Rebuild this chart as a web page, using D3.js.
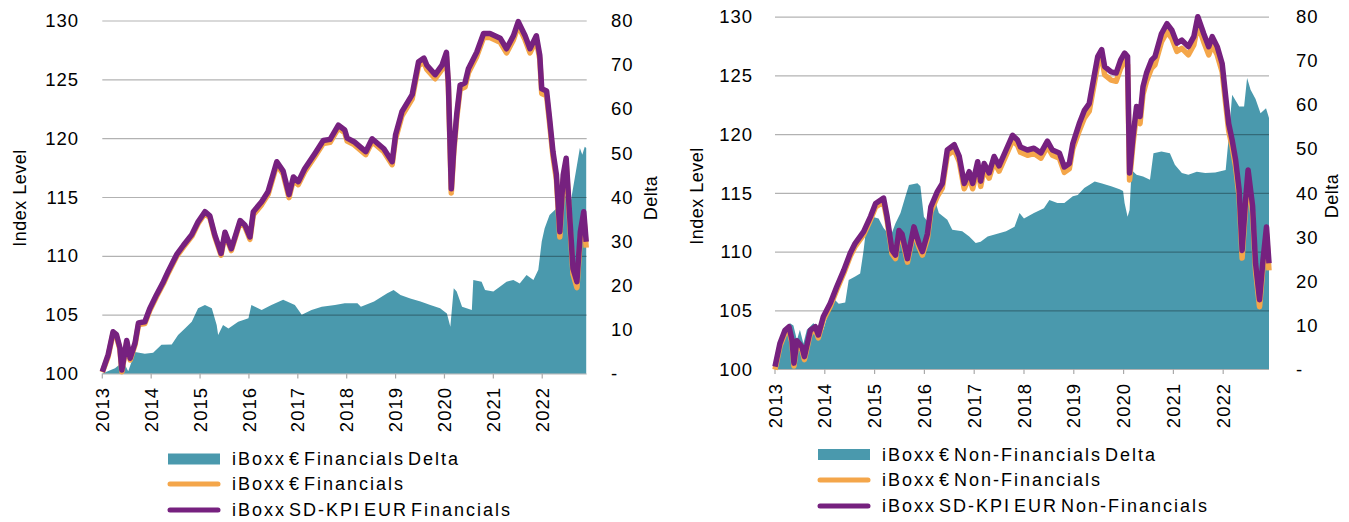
<!DOCTYPE html>
<html>
<head>
<meta charset="utf-8">
<script src="https://cdn.jsdelivr.net/npm/d3@7/dist/d3.min.js"></script>
<style>
	body { margin: 0; background: #fff; }
	text { font-family: "Liberation Sans", Arial, sans-serif; fill: #000; }
</style>
</head>
<body>
<div id="chart"></div>
<script>
// ---------- data ----------

// shared axis labels
var yearTicks = [2013, 2014, 2015, 2016, 2017, 2018, 2019, 2020, 2021, 2022];
var indexTicks = [100, 105, 110, 115, 120, 125, 130];
var deltaTicks = [0, 10, 20, 30, 40, 50, 60, 70, 80];

// Financials panel: index levels (dates as decimal years)
var finIdxYears = [
	2013.00, 2013.12, 2013.22, 2013.29, 2013.36, 2013.40, 2013.50, 2013.57, 2013.67, 2013.74, 2013.87, 2013.97,
	2014.11, 2014.25, 2014.35, 2014.52, 2014.66, 2014.83, 2014.96,
	2015.10, 2015.20, 2015.30, 2015.43, 2015.51, 2015.64, 2015.82, 2015.92,
	2016.02, 2016.09, 2016.26, 2016.39, 2016.57, 2016.70, 2016.82, 2016.91,
	2017.01, 2017.14, 2017.35, 2017.52, 2017.66, 2017.83, 2017.96,
	2018.01, 2018.15, 2018.39, 2018.52, 2018.76, 2018.93,
	2019.00, 2019.13, 2019.34, 2019.47, 2019.58, 2019.64, 2019.81, 2019.95,
	2020.04, 2020.08, 2020.14, 2020.19, 2020.25, 2020.32, 2020.42, 2020.49, 2020.66, 2020.80, 2020.93,
	2021.14, 2021.27, 2021.41, 2021.51, 2021.65, 2021.75, 2021.88, 2021.95, 2021.99,
	2022.09, 2022.15, 2022.22, 2022.29, 2022.36, 2022.43, 2022.49, 2022.56, 2022.63, 2022.71, 2022.78, 2022.85, 2022.90
];
var finKpi = [
	100.15, 101.6, 103.55, 103.3, 102.2, 100.3, 102.8, 101.3, 102.6, 104.3, 104.4, 105.5,
	106.7, 107.8, 108.7, 110.1, 110.9, 111.8, 112.9,
	113.75, 113.4, 111.8, 110.2, 112.0, 110.6, 113.0, 112.6,
	111.6, 113.75, 114.6, 115.45, 118.0, 117.2, 115.2, 116.7,
	116.3, 117.4, 118.7, 119.8, 119.9, 121.1, 120.7,
	120.0, 119.7, 118.85, 119.95, 119.1, 118.0,
	120.3, 122.25, 123.7, 126.5, 126.8, 126.2, 125.4, 126.2,
	127.3, 124.7, 115.7, 119.1, 122.0, 124.5, 124.7, 125.9, 127.3, 128.9, 128.9,
	128.5, 127.6, 128.7, 129.9, 128.7, 127.6, 128.7, 127.05, 124.2,
	124.0, 121.7, 118.85, 116.9, 112.05, 116.9, 118.3, 113.5, 108.9, 107.8, 112.05, 113.75, 111.2
];
var finIboxx = [
	100.1, 101.45, 103.4, 103.15, 102.05, 100.15, 102.65, 101.15, 102.45, 104.15, 104.25, 105.35,
	106.55, 107.65, 108.55, 109.95, 110.75, 111.65, 112.75,
	113.6, 113.25, 111.65, 110.05, 111.85, 110.45, 112.85, 112.45,
	111.4, 113.5, 114.35, 115.2, 117.75, 116.95, 114.95, 116.45,
	116.05, 117.15, 118.45, 119.55, 119.65, 120.85, 120.45,
	119.75, 119.45, 118.6, 119.7, 118.85, 117.75,
	119.95, 121.9, 123.35, 126.15, 126.45, 125.85, 125.05, 125.85,
	126.95, 124.35, 115.35, 118.75, 121.65, 124.15, 124.35, 125.55, 126.95, 128.55, 128.55,
	128.15, 127.25, 128.35, 129.55, 128.35, 127.25, 128.35, 126.7, 123.8,
	123.6, 121.3, 118.45, 116.5, 111.6, 116.45, 117.85, 113.05, 108.45, 107.3, 111.55, 113.3, 110.7
];
// Financials panel: delta (right axis)
var finDeltaYears = [
	2013.00, 2013.26, 2013.43, 2013.53, 2013.67, 2013.87,
	2014.04, 2014.21, 2014.42, 2014.55, 2014.69, 2014.83, 2014.96,
	2015.10, 2015.24, 2015.34, 2015.37, 2015.47, 2015.58, 2015.78, 2015.99,
	2016.05, 2016.26, 2016.46, 2016.70, 2016.94,
	2017.08, 2017.28, 2017.49, 2017.76, 2017.96,
	2018.22, 2018.29, 2018.56, 2018.83, 2018.96,
	2019.10, 2019.30, 2019.51, 2019.71, 2019.91,
	2020.05, 2020.12, 2020.19, 2020.25, 2020.36, 2020.56, 2020.59, 2020.76, 2020.83,
	2021.00, 2021.14, 2021.27, 2021.41, 2021.54, 2021.68, 2021.82, 2021.92, 2021.99,
	2022.05, 2022.15, 2022.29, 2022.39, 2022.49, 2022.56, 2022.63, 2022.70, 2022.77, 2022.82, 2022.87, 2022.90
];
var finDelta = [
	0, 1.2, 2.7, 0.5, 4.9, 4.5,
	4.7, 6.5, 6.6, 8.7, 10.2, 11.7, 14.8,
	15.5, 14.8, 11.0, 8.7, 11.0, 10.2, 11.7, 12.5,
	15.5, 14.4, 15.5, 16.7, 15.5,
	13.3, 14.4, 15.1, 15.5, 15.9,
	15.9, 15.1, 16.3, 18.2, 18.9,
	17.8, 17.0, 16.3, 15.5, 14.8,
	13.6, 10.6, 19.3, 18.6, 15.1, 14.4, 21.2, 20.8, 18.9,
	18.6, 19.7, 20.8, 21.2, 20.4, 22.3, 21.2, 23.5, 29.9,
	32.9, 35.9, 37.4, 39.0, 40.5, 37.4, 42.0, 46.5, 51.1, 49.6, 51.4, 51.1
];

// Non-Financials panel: index levels
var nonIdxYears = [
	2013.00, 2013.10, 2013.20, 2013.28, 2013.34, 2013.38, 2013.44, 2013.54, 2013.59, 2013.71, 2013.81, 2013.87, 2013.97,
	2014.11, 2014.24, 2014.38, 2014.51, 2014.61, 2014.78, 2014.92,
	2015.02, 2015.18, 2015.25, 2015.35, 2015.42, 2015.49, 2015.55, 2015.66, 2015.79, 2015.89, 2015.96,
	2016.06, 2016.13, 2016.26, 2016.36, 2016.46, 2016.60, 2016.70, 2016.80, 2016.90, 2016.97,
	2017.07, 2017.13, 2017.20, 2017.30, 2017.40, 2017.50, 2017.64, 2017.77, 2017.87, 2017.93,
	2018.07, 2018.20, 2018.34, 2018.47, 2018.57, 2018.71, 2018.81, 2018.91, 2018.98,
	2019.11, 2019.21, 2019.31, 2019.42, 2019.48, 2019.56, 2019.62, 2019.75, 2019.85, 2019.94,
	2020.02, 2020.08, 2020.12, 2020.19, 2020.26, 2020.33, 2020.39, 2020.46, 2020.56, 2020.63, 2020.76, 2020.87, 2020.97,
	2021.07, 2021.17, 2021.30, 2021.41, 2021.49, 2021.61, 2021.71, 2021.78, 2021.88, 2021.98,
	2022.05, 2022.11, 2022.18, 2022.25, 2022.32, 2022.38, 2022.45, 2022.50, 2022.59, 2022.65, 2022.73, 2022.80, 2022.87, 2022.92
];
var nonKpi = [
	100.2, 102.2, 103.3, 103.6, 102.5, 100.5, 102.4, 101.9, 101.05, 103.3, 103.6, 102.9, 104.45,
	105.6, 107.0, 108.4, 109.85, 110.7, 111.7, 113.0,
	114.1, 114.55, 113.0, 110.1, 109.7, 111.8, 111.5, 109.4, 112.1, 110.7, 110.0,
	111.5, 113.8, 115.1, 115.8, 118.65, 119.1, 118.1, 115.8, 116.8, 115.8,
	117.65, 116.0, 117.5, 116.7, 118.1, 117.3, 118.65, 119.9, 119.5, 118.9,
	118.65, 118.8, 118.4, 119.4, 118.65, 118.4, 117.2, 117.5, 119.2,
	120.9, 122.0, 122.6, 125.2, 126.6, 127.2, 125.75, 125.3, 125.2, 126.3,
	126.9, 126.6, 116.7, 119.8, 122.35, 121.5, 124.05, 125.2, 126.3, 126.6, 128.55, 129.4, 128.85,
	127.75, 128.0, 127.45, 128.3, 130.0, 128.55, 127.45, 128.3, 127.45, 126.0,
	123.2, 120.9, 119.5, 117.8, 115.25, 110.1, 114.4, 116.95, 113.9, 109.0, 105.9, 109.3, 112.1, 109.0
];
var nonIboxx = [
	99.95, 101.95, 103.05, 103.35, 102.25, 100.25, 102.15, 101.65, 100.8, 103.05, 103.35, 102.65, 104.2,
	105.35, 106.75, 108.15, 109.6, 110.45, 111.45, 112.75,
	113.8, 114.25, 112.7, 109.8, 109.4, 111.5, 111.2, 109.1, 111.8, 110.4, 109.7,
	111.1, 113.4, 114.7, 115.4, 118.2, 118.65, 117.65, 115.35, 116.35, 115.35,
	117.2, 115.55, 117.05, 116.25, 117.65, 116.85, 118.2, 119.45, 119.05, 118.45,
	118.2, 118.35, 117.95, 118.95, 118.2, 117.95, 116.75, 117.05, 118.75,
	120.3, 121.35, 121.95, 124.5, 125.9, 126.5, 125.05, 124.6, 124.5, 125.6,
	126.2, 125.9, 116.1, 119.2, 121.75, 120.9, 123.4, 124.5, 125.6, 125.9, 127.85, 128.7, 128.15,
	127.05, 127.3, 126.75, 127.6, 129.3, 127.85, 126.75, 127.6, 126.75, 125.3,
	122.6, 120.3, 118.9, 117.2, 114.65, 109.45, 113.8, 116.35, 113.3, 108.4, 105.3, 108.7, 111.5, 108.4
];
// Non-Financials panel: delta (right axis)
var nonDeltaYears = [
	2013.00, 2013.07, 2013.20, 2013.30, 2013.37, 2013.44, 2013.50, 2013.57, 2013.64, 2013.77, 2013.87, 2013.97,
	2014.11, 2014.21, 2014.28, 2014.41, 2014.48, 2014.61, 2014.71, 2014.78, 2014.85, 2014.95,
	2015.08, 2015.18, 2015.32, 2015.42, 2015.52, 2015.62, 2015.69, 2015.86, 2015.92, 2015.99,
	2016.09, 2016.23, 2016.29, 2016.46, 2016.56, 2016.76, 2016.90,
	2017.03, 2017.13, 2017.27, 2017.50, 2017.64, 2017.81, 2017.91,
	2018.00, 2018.20, 2018.40, 2018.51, 2018.67, 2018.81, 2018.98,
	2019.08, 2019.21, 2019.42, 2019.55, 2019.75, 2019.92, 2019.99,
	2020.02, 2020.08, 2020.12, 2020.16, 2020.26, 2020.39, 2020.53, 2020.60, 2020.76, 2020.93,
	2021.03, 2021.17, 2021.30, 2021.47, 2021.64, 2021.84,
	2022.05, 2022.10, 2022.18, 2022.32, 2022.42, 2022.48, 2022.55, 2022.65, 2022.75, 2022.86, 2022.92
];
var nonDelta = [
	0, 3.6, 8.9, 10.4, 9.9, 6.6, 8.9, 5.8, 8.9, 10.4, 9.5, 8.9,
	14.2, 15.6, 14.8, 15.1, 20.2, 21.0, 21.7, 27.0, 33.9, 34.6,
	34.2, 32.0, 30.1, 33.1, 35.4, 39.2, 41.8, 42.2, 41.5, 34.6,
	33.1, 37.7, 35.4, 33.9, 31.6, 31.3, 30.1,
	28.6, 28.9, 30.1, 30.8, 31.3, 32.3, 35.4,
	34.2, 35.4, 36.5, 38.4, 37.7, 37.7, 39.2,
	39.5, 41.1, 42.6, 42.2, 41.5, 40.8, 40.4,
	37.7, 34.6, 36.1, 45.2, 44.1, 43.7, 43.0, 49.0, 49.4, 49.0,
	46.4, 44.5, 44.1, 44.8, 44.5, 44.6,
	45.2, 51.3, 62.3, 59.6, 59.6, 66.1, 63.4, 61.3, 58.1, 59.2, 57.0
];

var finLegend = ["iBoxx € Financials Delta", "iBoxx € Financials", "iBoxx SD-KPI EUR Financials"];
var nonLegend = ["iBoxx € Non-Financials Delta", "iBoxx € Non-Financials", "iBoxx SD-KPI EUR Non-Financials"];

function main() {

	const SVG_WIDTH = 1349;
	const SVG_HEIGHT = 522;

	// colours
	var TEAL = "#4a99ad";
	var ORANGE = "#f4a64a";
	var PURPLE = "#76217f";

	var svg = d3.select("#chart")
		.append("svg")
		.attr("width", SVG_WIDTH)
		.attr("height", SVG_HEIGHT);

	// one dual axis panel
	function drawPanel(p) {
		var g = svg.append("g");

		var x = d3.scaleLinear().domain([2013, p.endYear]).range([p.left, p.right]);
		var y = d3.scaleLinear().domain([100, 130]).range([p.bottom, p.top]);
		var y2 = d3.scaleLinear().domain([0, 80]).range([p.bottom, p.top]);

		// delta area on the right axis
		var deltaPts = p.deltaYears.map(function(d, i) { return [d, p.delta[i]]; });
		var area = d3.area()
			.x(function(d) { return x(d[0]); })
			.y0(y2(0))
			.y1(function(d) { return y2(d[1]); });
		g.append("path")
			.datum(deltaPts)
			.attr("d", area)
			.attr("fill", TEAL);

		// gridlines (drawn over the area, semi transparent)
		g.selectAll(".grid")
			.data(indexTicks)
			.enter()
			.append("line")
			.attr("x1", p.left)
			.attr("x2", p.right)
			.attr("y1", function(d) { return y(d) + 0.5; })
			.attr("y2", function(d) { return y(d) + 0.5; })
			.attr("stroke", "#000")
			.attr("stroke-opacity", 0.3)
			.attr("stroke-width", 1.2);

		// year tick marks under the base line
		g.selectAll(".xtick")
			.data(yearTicks)
			.enter()
			.append("line")
			.attr("x1", function(d) { return x(d); })
			.attr("x2", function(d) { return x(d); })
			.attr("y1", p.bottom)
			.attr("y2", p.bottom + 5)
			.attr("stroke", "#aaa")
			.attr("stroke-width", 1.2);

		// index lines
		var line = d3.line()
			.x(function(d) { return x(d[0]); })
			.y(function(d) { return y(d[1]); })
			.curve(d3.curveLinear);
		var iboxxPts = p.idxYears.map(function(d, i) { return [d, p.iboxx[i]]; });
		var kpiPts = p.idxYears.map(function(d, i) { return [d, p.kpi[i]]; });
		g.append("path")
			.datum(iboxxPts)
			.attr("d", line)
			.attr("fill", "none")
			.attr("stroke", ORANGE)
			.attr("stroke-width", 5.5)
			.attr("stroke-linejoin", "round");
		g.append("path")
			.datum(kpiPts)
			.attr("d", line)
			.attr("fill", "none")
			.attr("stroke", PURPLE)
			.attr("stroke-width", 5.5)
			.attr("stroke-linejoin", "round");

		// left axis labels
		g.selectAll(".ylab")
			.data(indexTicks)
			.enter()
			.append("text")
			.attr("x", p.leftLabelX)
			.attr("y", function(d) { return y(d); })
			.attr("dy", "0.36em")
			.attr("text-anchor", "end")
			.style("font-size", "18.5px")
			.style("letter-spacing", "1px")
			.text(function(d) { return d; });

		// right axis labels (0 shown as a dash)
		g.selectAll(".y2lab")
			.data(deltaTicks)
			.enter()
			.append("text")
			.attr("x", p.rightLabelX)
			.attr("y", function(d) { return y2(d); })
			.attr("dy", "0.36em")
			.attr("text-anchor", "start")
			.style("font-size", "18.5px")
			.style("letter-spacing", "1px")
			.text(function(d) { return d === 0 ? "-" : d; });

		// rotated year labels
		g.selectAll(".xlab")
			.data(yearTicks)
			.enter()
			.append("text")
			.attr("transform", function(d) { return "translate(" + x(d) + "," + p.yearLabelY + ") rotate(-90)"; })
			.attr("dy", "0.36em")
			.attr("text-anchor", "end")
			.style("font-size", "18.5px")
			.style("letter-spacing", "1px")
			.text(function(d) { return d; });

		// axis titles
		g.append("text")
			.attr("transform", "translate(" + p.indexTitleX + "," + p.titleY + ") rotate(-90)")
			.attr("dy", "0.36em")
			.attr("text-anchor", "middle")
			.style("font-size", "18px")
			.style("letter-spacing", "0.5px")
			.text("Index Level");
		g.append("text")
			.attr("transform", "translate(" + p.deltaTitleX + "," + p.titleY + ") rotate(-90)")
			.attr("dy", "0.36em")
			.attr("text-anchor", "middle")
			.style("font-size", "18px")
			.style("letter-spacing", "0.5px")
			.text("Delta");

		// legend
		var lg = g.append("g");
		lg.append("rect")
			.attr("x", p.legendX)
			.attr("y", p.legendRows[0] - 5.5)
			.attr("width", 52)
			.attr("height", 11)
			.attr("fill", TEAL);
		[ORANGE, PURPLE].forEach(function(c, i) {
			lg.append("line")
				.attr("x1", p.legendX + 2)
				.attr("x2", p.legendX + 50)
				.attr("y1", p.legendRows[i + 1])
				.attr("y2", p.legendRows[i + 1])
				.attr("stroke", c)
				.attr("stroke-width", 5)
				.attr("stroke-linecap", "round");
		});
		lg.selectAll(".legtext")
			.data(p.legend)
			.enter()
			.append("text")
			.attr("x", p.legendX + 64)
			.attr("y", function(d, i) { return p.legendRows[i]; })
			.attr("dy", "0.36em")
			.style("font-size", "18px")
			.style("letter-spacing", "2px")
			.style("word-spacing", "-4px")
			.text(function(d) { return d; });
	}

	// Financials (left)
	drawPanel({
		left: 102.3, right: 586.7, top: 20.5, bottom: 373.5, endYear: 2022.91,
		leftLabelX: 79, rightLabelX: 611, yearLabelY: 387,
		indexTitleX: 20, deltaTitleX: 651, titleY: 198,
		legendX: 168, legendRows: [459, 484, 510], legend: finLegend,
		idxYears: finIdxYears, kpi: finKpi, iboxx: finIboxx,
		deltaYears: finDeltaYears, delta: finDelta
	});

	// Non-Financials (right)
	drawPanel({
		left: 775, right: 1269, top: 16.7, bottom: 369, endYear: 2022.92,
		leftLabelX: 753, rightLabelX: 1296, yearLabelY: 383,
		indexTitleX: 697, deltaTitleX: 1332, titleY: 196,
		legendX: 818, legendRows: [454.5, 480, 506], legend: nonLegend,
		idxYears: nonIdxYears, kpi: nonKpi, iboxx: nonIboxx,
		deltaYears: nonDeltaYears, delta: nonDelta
	});
}

function whenDocumentLoaded(action) {
	if (document.readyState === "loading") {
		document.addEventListener("DOMContentLoaded", action);
	} else {
		action();
	}
}

whenDocumentLoaded(() => {
	main()
});
</script>
</body>
</html>
